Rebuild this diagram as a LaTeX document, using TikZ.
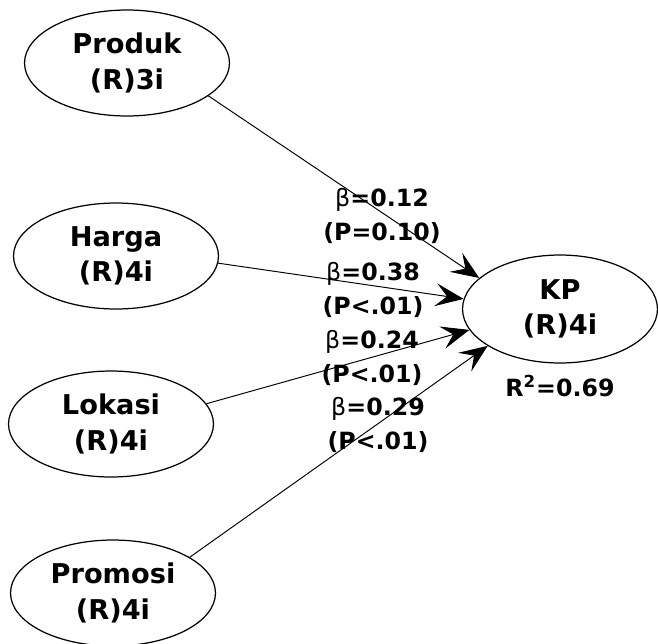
\documentclass[tikz,border=0pt]{standalone}
\usepackage{fontspec}
\setmainfont{DejaVu Sans}
\usetikzlibrary{shapes.geometric,arrows.meta}

\tikzset{
  lv/.style={draw, ellipse, line width=0.7pt, inner sep=0pt,
    minimum width=4.1cm, minimum height=2.12cm, align=center,
    font=\bfseries\fontsize{15.5}{20}\selectfont},
  arr/.style={line width=0.55pt, -{Stealth[length=16pt,width=13pt,inset=6.5pt]}},
  coef/.style={align=center, inner sep=0pt,
    font=\bfseries\fontsize{13.5}{19.5}\selectfont}
}
\newcommand{\bet}{{\mdseries β}}

\begin{document}
\begin{tikzpicture}[x=0.02cm,y=-0.02cm]
\useasboundingbox (0,0) rectangle (658,643);

\node [lv] (produk) at (127,63) {Produk\\(R)3i};
\node [lv] (harga) at (116,256) {Harga\\(R)4i};
\node [lv] (lokasi) at (111,424) {Lokasi\\(R)4i};
\node [lv] (promosi) at (113,593) {Promosi\\(R)4i};
\node [lv, minimum width=3.9cm, minimum height=2.16cm] (kp) at (560,309) {KP\\(R)4i};
\node [coef] (r2) at (560,386) {R\textsuperscript{2}=0.69};

\draw [arr] (produk.-22) to (kp.159);
\draw [arr] (harga.-4) to (kp.174);
\draw [arr] (lokasi.12) to (kp.193);
\draw [arr] (promosi.25) to (kp.207);

\node [coef] (c1) at (382,216) {\bet=0.12\\(P=0.10)};
\node [coef] (c2) at (373,290) {\bet=0.38\\(P<.01)};
\node [coef] (c3) at (372,358) {\bet=0.24\\(P<.01)};
\node [coef] (c4) at (378,425) {\bet=0.29\\(P<.01)};

\end{tikzpicture}
\end{document}
